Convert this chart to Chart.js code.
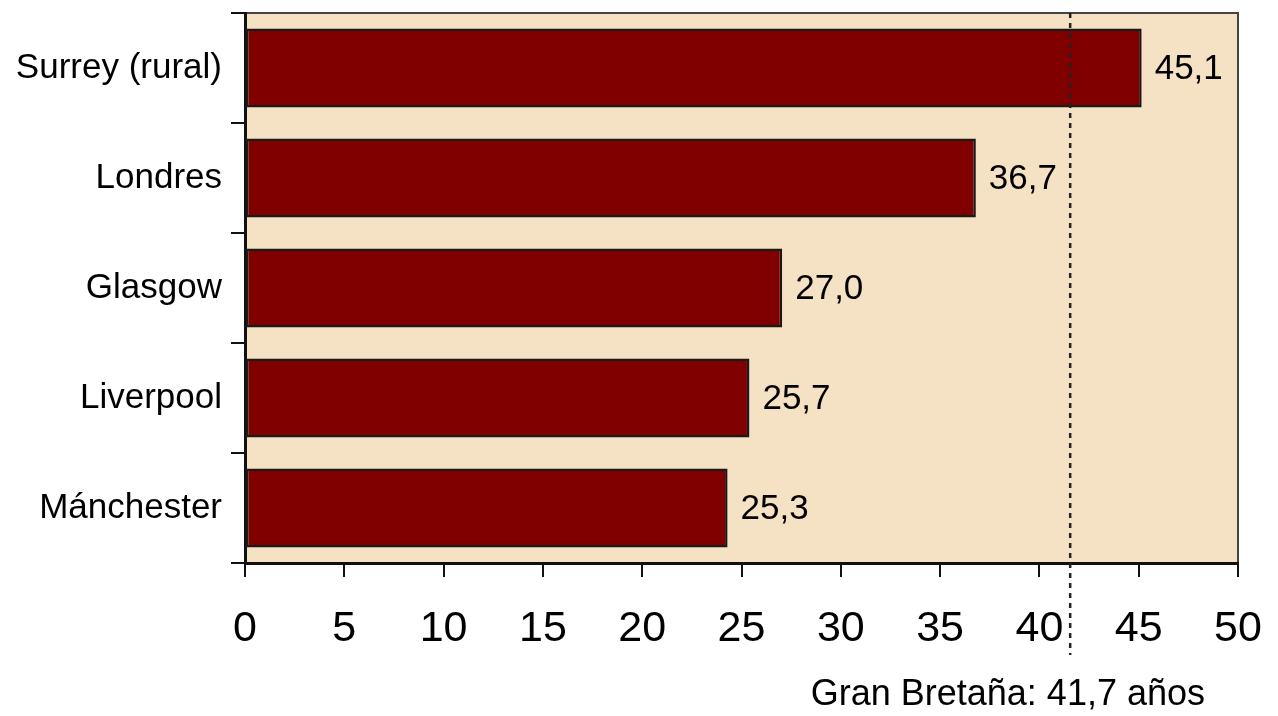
<!DOCTYPE html>
<html>
<head>
<meta charset="utf-8">
<script src="https://cdn.jsdelivr.net/npm/chart.js@4"></script>
<style>
  html, body { margin: 0; padding: 0; background: #fff; }
  #wrap { width: 1278px; height: 716px; }
</style>
</head>
<body>
<div id="wrap"><canvas id="lifeChart"></canvas></div>
<script>
// Data
const places = ['Surrey (rural)', 'Londres', 'Glasgow', 'Liverpool', 'Mánchester'];
const barValues = [45.15, 36.8, 27.05, 25.4, 24.3];       // bar lengths as drawn
const valueLabels = ['45,1', '36,7', '27,0', '25,7', '25,3']; // printed next to bars
const xTicks = [0, 5, 10, 15, 20, 25, 30, 35, 40, 45, 50];
const britainLine = 41.55;
const britainNote = 'Gran Bretaña: 41,7 años';

const FONT = '"Liberation Sans", Arial, sans-serif';

// beige panel, border lines, dotted reference line and text labels
const decorPlugin = {
  id: 'decor',
  beforeDraw(chart) {
    const { ctx, chartArea: a } = chart;
    ctx.save();
    ctx.fillStyle = '#F5E1C3';
    ctx.fillRect(a.left, a.top, a.right - a.left, a.bottom - a.top);
    ctx.strokeStyle = '#444';
    ctx.lineWidth = 2;
    ctx.beginPath();
    ctx.moveTo(a.left, a.top);
    ctx.lineTo(a.right, a.top);
    ctx.lineTo(a.right, a.bottom);
    ctx.stroke();
    ctx.restore();
  },
  afterDatasetsDraw(chart) {
    const { ctx, chartArea: a } = chart;
    const x = chart.scales.x.getPixelForValue(britainLine);
    ctx.save();
    ctx.strokeStyle = '#222';
    ctx.lineWidth = 2.5;
    ctx.setLineDash([5, 5]);
    ctx.beginPath();
    ctx.moveTo(x, a.top);
    ctx.lineTo(x, a.bottom + 92);
    ctx.stroke();
    ctx.setLineDash([]);

    // value labels
    ctx.fillStyle = '#000';
    ctx.font = '35px ' + FONT;
    ctx.textAlign = 'left';
    ctx.textBaseline = 'middle';
    chart.getDatasetMeta(0).data.forEach((bar, i) => {
      ctx.fillText(valueLabels[i], bar.x + 13, bar.y + 1);
    });

    // footnote
    ctx.font = '36px ' + FONT;
    ctx.textAlign = 'right';
    ctx.fillText(britainNote, 1205, 695);
    ctx.restore();
  }
};

new Chart(document.getElementById('lifeChart'), {
  type: 'bar',
  data: {
    labels: places,
    datasets: [{
      data: barValues,
      backgroundColor: '#800000',
      borderColor: '#1a1a1a',
      borderWidth: 2.5,
      borderSkipped: false,
      barPercentage: 0.72,
      categoryPercentage: 1
    }]
  },
  options: {
    indexAxis: 'y',
    responsive: true,
    maintainAspectRatio: false,
    animation: false,
    layout: { padding: { top: 13, right: 40, bottom: 0, left: 0 } },
    plugins: {
      legend: { display: false },
      tooltip: { enabled: false }
    },
    scales: {
      x: {
        min: 0,
        max: 50,
        afterFit(scale) {
          scale.height = 153;
          scale.paddingLeft = 0;
          scale.paddingRight = 0;
        },
        afterBuildTicks(scale) { scale.ticks = xTicks.map(v => ({ value: v })); },
        grid: {
          drawOnChartArea: false,
          tickLength: 14,
          color: '#111',
          lineWidth: 2
        },
        border: { display: true, color: '#111', width: 3 },
        ticks: {
          color: '#000',
          font: { family: FONT, size: 43 },
          padding: 26,
          maxRotation: 0
        }
      },
      y: {
        offset: true,
        afterFit(scale) {
          scale.width = 245;
          scale.paddingTop = 0;
          scale.paddingBottom = 0;
        },
        grid: {
          offset: true,
          drawOnChartArea: false,
          tickLength: 14,
          color: '#111',
          lineWidth: 2
        },
        border: { display: true, color: '#111', width: 3 },
        ticks: {
          color: '#000',
          font: { family: FONT, size: 35 },
          padding: 9
        }
      }
    }
  },
  plugins: [decorPlugin]
});
</script>
</body>
</html>
